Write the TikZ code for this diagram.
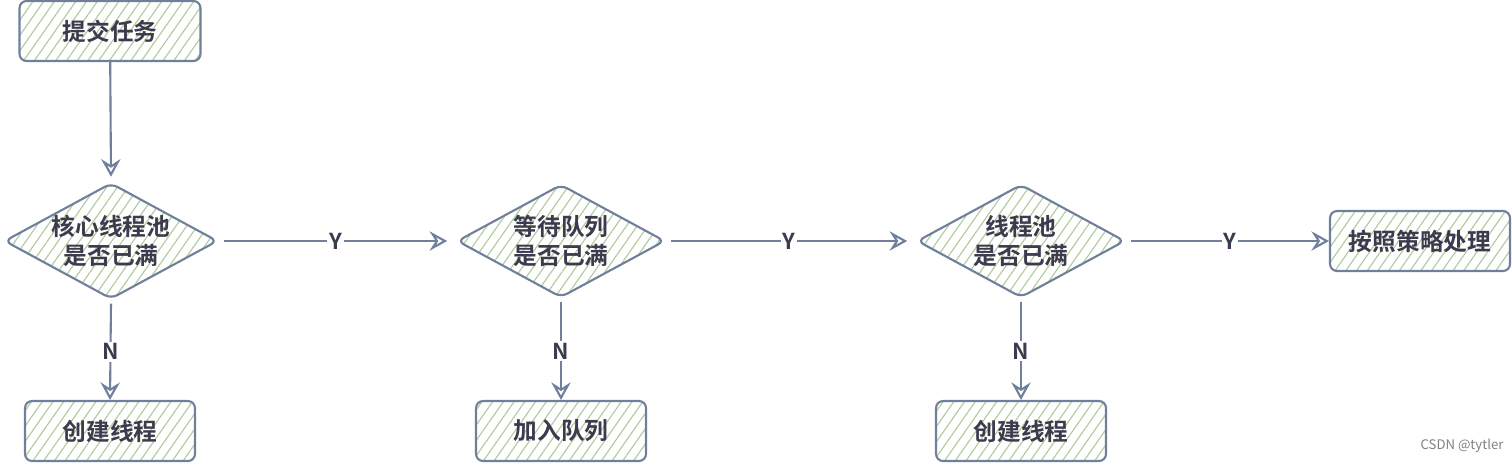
\documentclass[tikz,border=0pt]{standalone}
\usepackage{fontspec}
\setmainfont{Noto Sans CJK SC}
\newfontfamily\cjkbold[BoldFont={Noto Sans CJK SC Bold}]{Noto Sans CJK SC}
\usepackage{xcolor}
\definecolor{edgecol}{HTML}{707F9B}
\definecolor{hatchcol}{HTML}{AECD9B}
\definecolor{textcol}{HTML}{3B3B4D}
\usepackage{tikz}
\usetikzlibrary{arrows.meta, positioning, shapes.geometric, patterns.meta}
\tikzset{%
    hatched/.style={%
        pattern={Lines[angle=55, distance=5pt, line width=0.65pt]}, pattern color=hatchcol
    },
    stepbox/.style={%
        draw=edgecol, hatched, line width=1.2pt, rounded corners=4pt,
        minimum width=3.4cm, minimum height=1.2cm, inner sep=0,
        text=textcol, font=\cjkbold\bfseries\fontsize{13.5}{16}\selectfont, align=center,
    },
    decision/.style={%
        diamond, draw=edgecol, hatched, line width=1.2pt, rounded corners=4pt,
        aspect=1.84, minimum width=4.16cm, minimum height=2.26cm, inner sep=0,
        text=textcol, font=\cjkbold\bfseries\fontsize{13.5}{16.5}\selectfont, align=center,
    },
}
\begin{document}
\begin{tikzpicture}[
        flow/.style={draw=edgecol, line width=1.2pt, -{Stealth[open, length=10pt, width=11pt, inset=3.5pt]}},
        yn/.style={fill=white, inner sep=1pt, text=textcol, font=\cjkbold\bfseries\fontsize{12.5}{14}\selectfont},
    ]
        \def\xdist{0.02}
        \def\ydist{0.02}

        \useasboundingbox (0,0) rectangle (1512*\xdist, -462*\ydist);

        \node[stepbox, minimum width=3.62cm] (submit) at (110*\xdist, -31*\ydist) {提交任务};

        \node[decision] (corefull) at (111*\xdist, -241*\ydist) {核心线程池\\是否已满};
        \node[decision] (queuefull) at (561*\xdist, -241*\ydist) {等待队列\\是否已满};
        \node[decision] (poolfull) at (1021*\xdist, -241*\ydist) {线程池\\是否已满};
        \node[stepbox, minimum width=3.6cm] (reject) at (1420*\xdist, -241*\ydist) {按照策略处理};

        \node[stepbox] (newcore) at (110*\xdist, -431*\ydist) {创建线程};
        \node[stepbox] (enqueue) at (561*\xdist, -431*\ydist) {加入队列};
        \node[stepbox] (newthread) at (1021*\xdist, -431*\ydist) {创建线程};

        \node[text=gray, font=\fontsize{7.5}{9}\selectfont] (mark) at (1462*\xdist, -446*\ydist) {CSDN @tytler};

        \draw[flow] (submit) -- ([yshift=3pt]corefull.north);
        \draw[flow] ([xshift=3pt]corefull.east) -- node[yn] {Y} ([xshift=-5pt]queuefull.west);
        \draw[flow] ([xshift=3pt]queuefull.east) -- node[yn] {Y} ([xshift=-5pt]poolfull.west);
        \draw[flow] ([xshift=3pt]poolfull.east) -- node[yn] {Y} (reject.west);
        \draw[flow] ([yshift=-2pt]corefull.south) -- node[yn] {N} (newcore.north);
        \draw[flow] ([yshift=-2pt]queuefull.south) -- node[yn] {N} (enqueue.north);
        \draw[flow] ([yshift=-2pt]poolfull.south) -- node[yn] {N} (newthread.north);

    \end{tikzpicture}
\end{document}
